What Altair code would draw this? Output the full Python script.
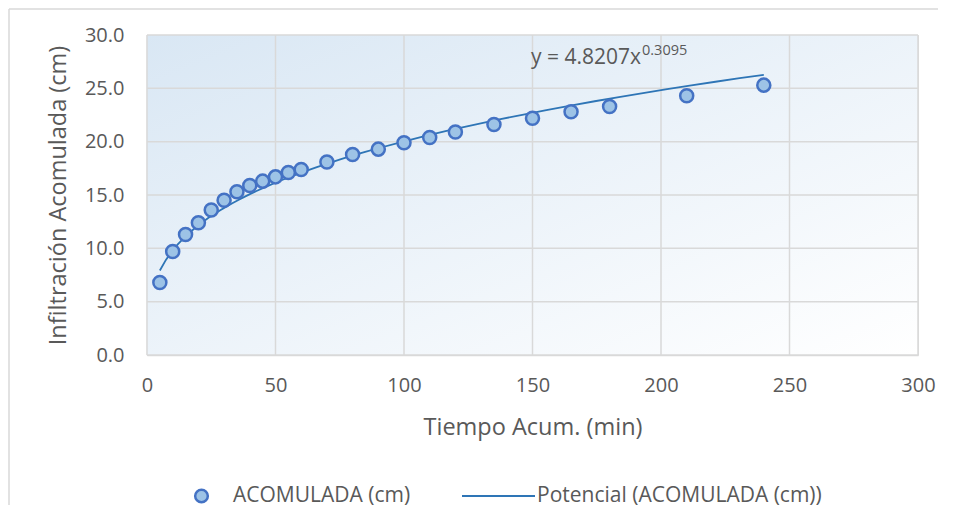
import altair as alt
import pandas as pd

# ---- data ----
tiempo = [5, 10, 15, 20, 25, 30, 35, 40, 45, 50, 55, 60, 70, 80, 90, 100,
          110, 120, 135, 150, 165, 180, 210, 240]
acumulada = [6.8, 9.7, 11.3, 12.4, 13.6, 14.5, 15.3, 15.9, 16.3, 16.7, 17.1,
             17.4, 18.1, 18.8, 19.3, 19.9, 20.4, 20.9, 21.6, 22.2, 22.8,
             23.3, 24.3, 25.3]
legend_labels = ["ACOMULADA (cm)", "Potencial (ACOMULADA (cm))"]
equation_main = "y = 4.8207x"
equation_exp = "0.3095"
x_ticks = [0, 50, 100, 150, 200, 250, 300]
y_ticks = [0, 5, 10, 15, 20, 25, 30]

df = pd.DataFrame({"t": tiempo, "y": acumulada})
xg = pd.DataFrame({"t": x_ticks})
yg = pd.DataFrame({"y": y_ticks})
one = pd.DataFrame({"k": [0]})

FONT = "Open Sans"
GRAY = "#595959"
GRID = "#d9d9d9"
W, H = 771, 320

xs = alt.Scale(domain=[0, 300], nice=False)
ys = alt.Scale(domain=[0, 30], nice=False)

background = alt.Chart(one).mark_rect(
    color=alt.LinearGradient(
        gradient="linear",
        stops=[alt.GradientStop(color="#d9e7f4", offset=0),
               alt.GradientStop(color="#ffffff", offset=1)],
        x1=0, y1=0, x2=1, y2=1,
    )
).encode(x=alt.value(0), x2=alt.value(W), y=alt.value(0), y2=alt.value(H))

frame_left = alt.Chart(one).mark_rule(color=GRID, strokeWidth=1.5).encode(
    x=alt.value(-138), y=alt.value(-26), y2=alt.value(H + 150))
frame_top = alt.Chart(one).mark_rule(color=GRID, strokeWidth=1.5).encode(
    x=alt.value(-138), x2=alt.value(W + 20), y=alt.value(-26))

grid_x = alt.Chart(xg).mark_rule(color=GRID, strokeWidth=1.5).encode(
    x=alt.X("t:Q", scale=xs), y=alt.value(0), y2=alt.value(H))
grid_y = alt.Chart(yg).mark_rule(color=GRID, strokeWidth=1.5).encode(
    y=alt.Y("y:Q", scale=ys), x=alt.value(0), x2=alt.value(W))

points = alt.Chart(df).mark_point(
    shape="circle", filled=True, fill="#9dc3e6", stroke="#4472c4",
    strokeWidth=2.5, size=170, opacity=1
).encode(
    x=alt.X("t:Q", scale=xs, axis=alt.Axis(
        values=x_ticks, title="Tiempo Acum. (min)", grid=False, ticks=False,
        labelFlush=False, domainColor=GRID, domainWidth=1.5,
        labelFont=FONT, labelFontSize=20, labelColor=GRAY, labelPadding=20,
        titleFont=FONT, titleFontSize=23.5, titleColor=GRAY,
        titleFontWeight="normal", titlePadding=20)),
    y=alt.Y("y:Q", scale=ys, axis=alt.Axis(
        values=y_ticks, format=".1f", title="Infiltración Acomulada (cm)",
        grid=False, ticks=False, domainColor=GRID, domainWidth=1.5,
        labelFont=FONT, labelFontSize=20, labelColor=GRAY, labelPadding=23,
        titleFont=FONT, titleFontSize=23.5, titleColor=GRAY,
        titleFontWeight="normal", titlePadding=14)),
)

trend = alt.Chart(df).transform_regression(
    "t", "y", method="pow"
).mark_line(color="#2e75b6", strokeWidth=1.8).encode(
    x=alt.X("t:Q", scale=xs), y=alt.Y("y:Q", scale=ys)
)

eq1 = alt.Chart(one).mark_text(
    text=equation_main, font=FONT, fontSize=21, color=GRAY,
    align="left", baseline="alphabetic"
).encode(x=alt.value(384), y=alt.value(28.5))

eq2 = alt.Chart(one).mark_text(
    text=equation_exp, font=FONT, fontSize=14.5, color=GRAY,
    align="left", baseline="alphabetic"
).encode(x=alt.value(495), y=alt.value(19.5))

leg_pt = alt.Chart(one).mark_point(
    shape="circle", filled=True, fill="#9dc3e6", stroke="#4472c4",
    strokeWidth=2.5, size=160, opacity=1
).encode(x=alt.value(54.5), y=alt.value(461))

leg_t1 = alt.Chart(one).mark_text(
    text=legend_labels[0], font=FONT, fontSize=21, color=GRAY,
    align="left", baseline="middle"
).encode(x=alt.value(86), y=alt.value(461))

leg_line = alt.Chart(one).mark_rule(color="#2e75b6", strokeWidth=1.8).encode(
    x=alt.value(315), x2=alt.value(388), y=alt.value(461)
)

leg_t2 = alt.Chart(one).mark_text(
    text=legend_labels[1], font=FONT, fontSize=21, color=GRAY,
    align="left", baseline="middle"
).encode(x=alt.value(390), y=alt.value(461))

chart = alt.layer(
    background, frame_left, frame_top, grid_x, grid_y, trend, points,
    eq1, eq2, leg_pt, leg_t1, leg_line, leg_t2
).properties(
    width=W, height=H,
    autosize=alt.AutoSizeParams(type="none"),
    padding={"left": 139, "top": 27, "right": 28, "bottom": 160},
).configure_view(stroke=None).configure(background="white")

chart.save("out.html", embed_options={"renderer": "svg", "actions": False})
